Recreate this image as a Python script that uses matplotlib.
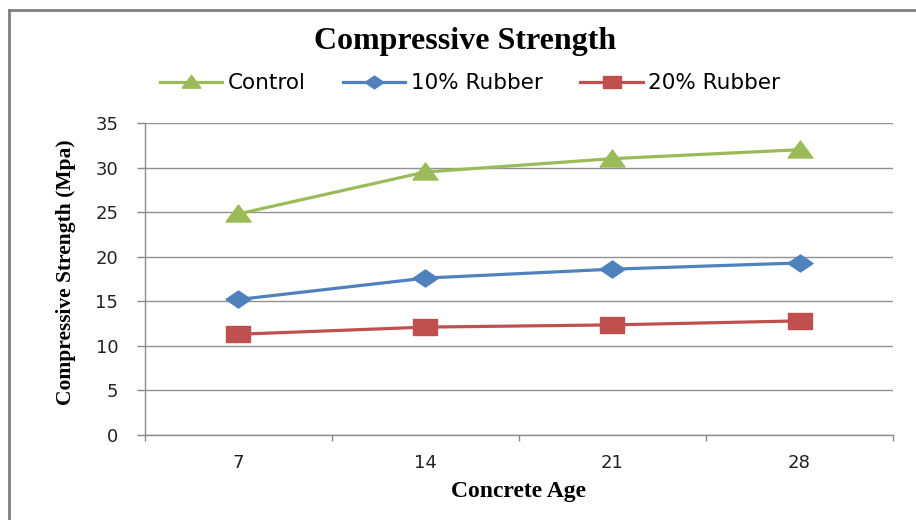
import matplotlib
matplotlib.use("Agg")
import matplotlib.pyplot as plt
from matplotlib.lines import Line2D

categories = ["7", "14", "21", "28"]
control = [24.8, 29.5, 31.0, 32.0]
rubber10 = [15.2, 17.6, 18.6, 19.3]
rubber20 = [11.3, 12.1, 12.35, 12.8]
series_names = ["Control", "10% Rubber", "20% Rubber"]
y_ticks = [0, 5, 10, 15, 20, 25, 30, 35]

# horizontally stretched marker shapes (reference picture is stretched)
tri = [(-1, -0.6), (1, -0.6), (0, 0.76), (-1, -0.6)]
dia = [(-1, 0), (0, 0.68), (1, 0), (0, -0.68), (-1, 0)]
sq = [(-1, -0.68), (1, -0.68), (1, 0.68), (-1, 0.68), (-1, -0.68)]

fig = plt.figure(figsize=(9.16, 5.20), dpi=100)
ax = fig.add_axes([0.158, 0.1635, 0.817, 0.600])

x = list(range(len(categories)))
green, blue, red = "#9BBB59", "#4F81BD", "#C0504D"
ax.plot(x, control, color=green, lw=2.3, marker=tri, ms=18, label=series_names[0])
ax.plot(x, rubber10, color=blue, lw=2.3, marker=dia, ms=18, label=series_names[1])
ax.plot(x, rubber20, color=red, lw=2.3, marker=sq, ms=17.5, label=series_names[2])

ax.set_xlim(-0.5, len(categories) - 0.5)
ax.set_ylim(0, 35)
ax.set_yticks(y_ticks)
ax.set_yticklabels([str(v) for v in y_ticks])
ax.set_xticks(x)
ax.set_xticklabels(categories)
ax.set_xticks([i - 0.5 for i in range(len(categories) + 1)], minor=True)
ax.tick_params(axis="x", which="major", length=0, pad=14)
ax.tick_params(axis="x", which="minor", length=4.5, color="#888888", width=1, direction="out")
ax.tick_params(axis="y", length=6, color="#888888", width=1, direction="out", pad=13)
for lab in ax.get_xticklabels() + ax.get_yticklabels():
    lab.set_fontfamily("DejaVu Sans")
    lab.set_fontsize(13)
    lab.set_color("#222222")

ax.grid(axis="y", color="#919191", lw=1)
ax.set_axisbelow(True)
for s in ["top", "right"]:
    ax.spines[s].set_visible(False)
for s in ["left", "bottom"]:
    ax.spines[s].set_color("#8c8c8c")
    ax.spines[s].set_linewidth(1)

ax.set_xlabel("Concrete Age", family="Liberation Serif", weight="bold", fontsize=17, labelpad=6)
ax.set_ylabel("Compressive Strength (Mpa)", family="Liberation Serif", weight="bold", fontsize=15.5)
ax.yaxis.set_label_coords(-0.092, 0.522)

fig.text(0.508, 0.920, "Compressive Strength", family="Liberation Serif", weight="bold",
         fontsize=23, ha="center", va="center")

leg = fig.legend(loc="center", bbox_to_anchor=(0.513, 0.840), ncol=3, frameon=False,
                 prop=dict(family="DejaVu Sans", size=15.5), handlelength=2.9,
                 columnspacing=1.75, handletextpad=0.25, markerscale=0.75)

# outer border (top and left)
fig.add_artist(Line2D([0.0098, 1.0], [0.981, 0.981], transform=fig.transFigure, color="#808080", lw=2))
fig.add_artist(Line2D([0.0098, 0.0098], [0.0, 0.981], transform=fig.transFigure, color="#808080", lw=2))

fig.savefig("out.png", dpi=100)
